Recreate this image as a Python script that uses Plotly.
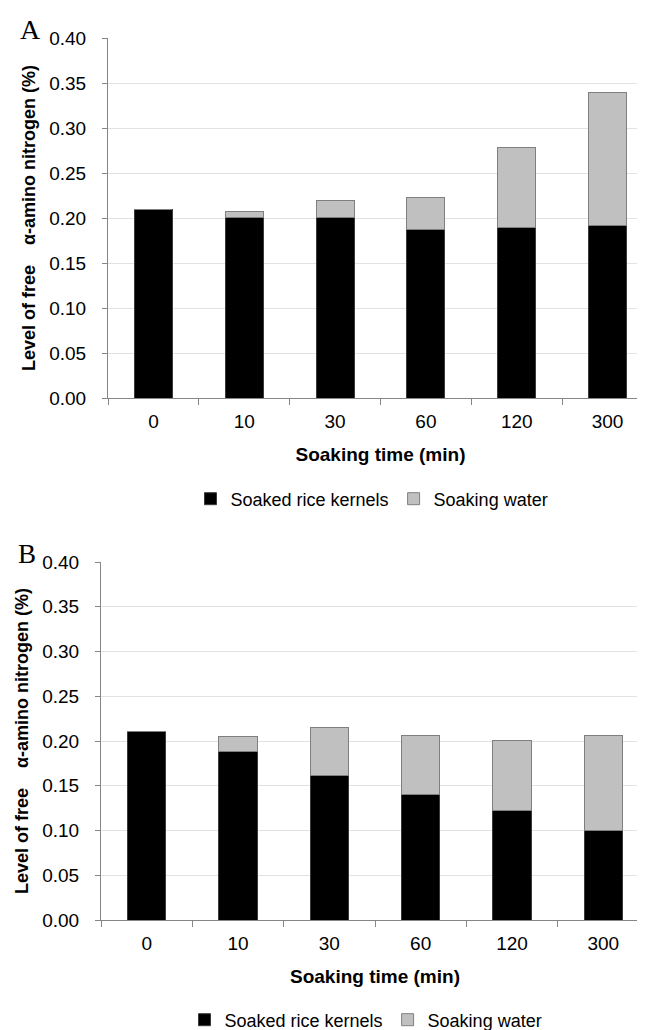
import plotly.graph_objects as go

categories = ["0", "10", "30", "60", "120", "300"]

# Panel A
a_kernels = [0.210, 0.201, 0.201, 0.187, 0.189, 0.192]
a_water = [0.000, 0.006, 0.019, 0.036, 0.089, 0.147]

# Panel B
b_kernels = [0.211, 0.188, 0.161, 0.140, 0.122, 0.100]
b_water = [0.000, 0.017, 0.054, 0.066, 0.079, 0.106]

series_names = ["Soaked rice kernels", "Soaking water"]
y_ticks = [0.00, 0.05, 0.10, 0.15, 0.20, 0.25, 0.30, 0.35, 0.40]

W, H = 645, 1030
BLACK = "#000000"
GRAY = "#c0c0c0"
FONT = "Liberation Sans, Arial, sans-serif"

fig = go.Figure()

for kern, water, xa, ya, lg in [(a_kernels, a_water, "x", "y", "legend"),
                                (b_kernels, b_water, "x2", "y2", "legend2")]:
    fig.add_trace(go.Bar(x=categories, y=kern, name=series_names[0],
                         marker=dict(color=BLACK, line=dict(color="#3a3a3a", width=1)),
                         xaxis=xa, yaxis=ya, legend=lg))
    fig.add_trace(go.Bar(x=categories, y=water, name=series_names[1],
                         marker=dict(color=GRAY, line=dict(color="#7f7f7f", width=1)),
                         xaxis=xa, yaxis=ya, legend=lg))

def px_x(p):
    return p / W

def px_y(p):
    return 1 - p / H

ytitle = "Level of free\u00a0\u00a0\u00a0\u00a0α-amino nitrogen (%)"

common_x = dict(type="category", showline=True, linecolor="#868686", linewidth=1,
                ticks="outside", ticklen=6, tickcolor="#868686", tickson="boundaries",
                tickfont=dict(family=FONT, size=19, color="#000"), showgrid=False,
                ticklabelstandoff=6,
                title=dict(text="<b>Soaking time (min)</b>",
                           font=dict(family=FONT, size=19, color="#000"), standoff=16))
common_y = dict(range=[0, 0.4], tickvals=y_ticks, tickformat=".2f", showline=True,
                linecolor="#868686", linewidth=1, ticks="outside", ticklen=5,
                tickcolor="#868686", showgrid=True, gridcolor="#e2e2e2", gridwidth=1,
                zeroline=False, tickfont=dict(family=FONT, size=19, color="#000"),
                ticklabelstandoff=12,
                title=dict(text="<b>" + ytitle + "</b>",
                           font=dict(family=FONT, size=18, color="#000"), standoff=8))

fig.update_layout(
    width=W, height=H, barmode="stack", bargap=0.58,
    plot_bgcolor="white", paper_bgcolor="white",
    margin=dict(l=0, r=0, t=0, b=0, autoexpand=False),
    font=dict(family=FONT, size=18, color="#000"),
    xaxis=dict(domain=[px_x(100), px_x(645)], anchor="y", **common_x),
    yaxis=dict(domain=[px_y(390), px_y(30)], anchor="x", **common_y),
    xaxis2=dict(domain=[px_x(93), px_x(641)], anchor="y2", **common_x),
    yaxis2=dict(domain=[px_y(912), px_y(554)], anchor="x2", **common_y),
    legend=dict(orientation="h", x=px_x(364), xanchor="center", y=px_y(491), yanchor="middle",
                font=dict(family=FONT, size=18, color="#000"), itemwidth=30,
                traceorder="normal", bgcolor="rgba(0,0,0,0)"),
    legend2=dict(orientation="h", x=px_x(358), xanchor="center", y=px_y(1012), yanchor="middle",
                 font=dict(family=FONT, size=18, color="#000"), itemwidth=30,
                 traceorder="normal", bgcolor="rgba(0,0,0,0)"),
    annotations=[
        dict(text="A", x=px_x(10), y=px_y(22), xref="paper", yref="paper",
             xanchor="left", yanchor="middle", showarrow=False,
             font=dict(family="Liberation Serif, Times New Roman, serif", size=28, color="#000")),
        dict(text="B", x=px_x(8), y=px_y(546), xref="paper", yref="paper",
             xanchor="left", yanchor="middle", showarrow=False,
             font=dict(family="Liberation Serif, Times New Roman, serif", size=27, color="#000")),
    ],
)

fig.write_html("out.html")
